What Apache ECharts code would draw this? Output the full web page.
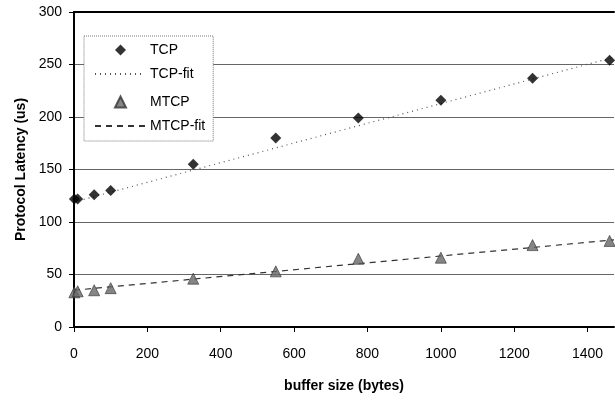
<!DOCTYPE html>
<html>
<head>
<meta charset="utf-8">
<script src="https://cdn.jsdelivr.net/npm/echarts@6/dist/echarts.min.js"></script>
<style>
  html, body { margin: 0; padding: 0; background: #fff; }
  #chart { width: 615px; height: 400px; }
</style>
</head>
<body>
<div id="chart"></div>
<script>
// buffer sizes (bytes)
let bufferSizes = [1, 10, 55, 100, 325, 550, 775, 1000, 1250, 1460];
// measured latency (us)
let tcpLatency = [122, 122, 126, 130, 155, 180, 199, 216, 237, 254];
let mtcpLatency = [33, 34, 35, 37, 46, 53, 65, 66, 78, 82];
// fitted lines, end points
let fitX = [0, 1472];
let tcpFit = [119, 257];
let mtcpFit = [35, 83];
let xTicks = [0, 200, 400, 600, 800, 1000, 1200, 1400];

function pairs(xs, ys) {
  return xs.map((x, i) => [x, ys[i]]);
}

let font = 'Liberation Sans, Arial, sans-serif';
let legendText = { fontFamily: font, fontSize: 14, color: '#000' };

let option = {
  animation: false,
  backgroundColor: '#fff',
  grid: { left: 74, top: 12, right: 1, bottom: 73 },
  legend: [
    // box + the two fit lines (rows 2 and 4)
    {
      orient: 'vertical',
      left: 84,
      top: 36,
      data: [
        { name: 'TCP-fit', itemStyle: { opacity: 0 } },
        { name: 'MTCP-fit', itemStyle: { opacity: 0 } }
      ],
      itemWidth: 50,
      itemHeight: 12,
      itemGap: 38,
      padding: [31, 8, 8, 10],
      backgroundColor: '#fff',
      borderColor: '#777',
      borderWidth: 1,
      borderType: 'dotted',
      textStyle: legendText,
      z: 4
    },
    // the two markers (rows 1 and 3)
    {
      orient: 'vertical',
      left: 114,
      top: 43,
      data: ['TCP', 'MTCP'],
      itemWidth: 11,
      itemHeight: 11,
      itemGap: 38,
      padding: 0,
      textStyle: Object.assign({ padding: [0, 0, 0, 19] }, legendText),
      z: 6
    }
  ],
  xAxis: [{
    type: 'value',
    min: 0,
    max: 1472,
    interval: 200,
    name: 'buffer size (bytes)',
    nameLocation: 'middle',
    nameGap: 52,
    nameTextStyle: { fontFamily: font, fontSize: 14, fontWeight: 'bold', color: '#000' },
    axisLine: { lineStyle: { color: '#000', width: 2 } },
    axisTick: { show: true, length: 5, lineStyle: { color: '#000' }, customValues: xTicks },
    axisLabel: {
      margin: 20, fontFamily: font, fontSize: 14, color: '#000',
      customValues: xTicks,
      formatter: v => String(v)
    },
    splitLine: { show: false }
  }, {
    type: 'value',
    position: 'top',
    min: 0,
    max: 1472,
    axisLine: { show: true, lineStyle: { color: '#000', width: 2 } },
    axisTick: { show: false },
    axisLabel: { show: false },
    splitLine: { show: false }
  }],
  yAxis: {
    type: 'value',
    min: 0,
    max: 300,
    interval: 50,
    name: 'Protocol Latency (us)',
    nameLocation: 'middle',
    nameGap: 46,
    nameTextStyle: { fontFamily: font, fontSize: 14, fontWeight: 'bold', color: '#000' },
    axisLine: { show: true, lineStyle: { color: '#000', width: 2 } },
    axisTick: { show: true, length: 5, lineStyle: { color: '#000' } },
    axisLabel: { margin: 12, fontFamily: font, fontSize: 14, color: '#000' },
    splitLine: { show: true, lineStyle: { color: '#666', width: 1 } }
  },
  series: [
    {
      name: 'TCP',
      type: 'scatter',
      data: pairs(bufferSizes, tcpLatency),
      symbol: 'diamond',
      symbolSize: 11,
      itemStyle: { color: '#000' },
      z: 5
    },
    {
      name: 'TCP-fit',
      type: 'line',
      data: pairs(fitX, tcpFit),
      symbol: 'none',
      lineStyle: { color: '#555', width: 1.2, type: [1, 4] },
      itemStyle: { color: '#555' }
    },
    {
      name: 'MTCP',
      type: 'scatter',
      data: pairs(bufferSizes, mtcpLatency),
      symbol: 'triangle',
      symbolSize: 11,
      itemStyle: { color: '#666', borderColor: '#333', borderWidth: 0.8 },
      z: 5
    },
    {
      name: 'MTCP-fit',
      type: 'line',
      data: pairs(fitX, mtcpFit),
      symbol: 'none',
      lineStyle: { color: '#333', width: 1.2, type: [6, 5] },
      itemStyle: { color: '#333' }
    }
  ]
};

let myChart = echarts.init(document.getElementById('chart'));
myChart.setOption(option);
</script>
</body>
</html>
